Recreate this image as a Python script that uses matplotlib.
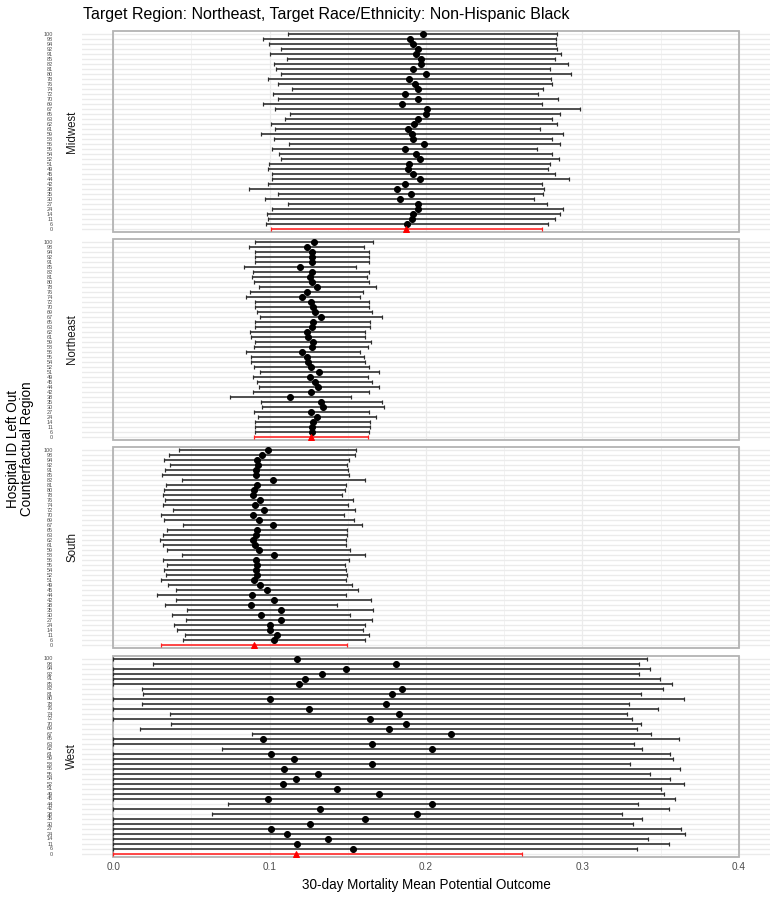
import matplotlib
matplotlib.use('Agg')
import matplotlib.pyplot as plt
from matplotlib.patches import Rectangle

plt.rcParams['font.family'] = ['Liberation Sans', 'DejaVu Sans']

# ---------------- data ----------------
hospital_ids = ["100", "98", "94", "92", "91", "85", "82", "81", "80", "78",
                "76", "74", "72", "70", "69", "67", "65", "63", "62", "61",
                "59", "58", "56", "55", "54", "52", "51", "49", "45", "44",
                "42", "38", "35", "30", "27", "24", "14", "11", "6", "0"]
highlight_id = "0"

regions = ["Midwest", "Northeast", "South", "West"]

mw_lo = [0.1118, 0.0959, 0.0997, 0.1070, 0.1002, 0.1108, 0.1027, 0.1040, 0.1070, 0.0991,
         0.1055, 0.1146, 0.1019, 0.1053, 0.0955, 0.1034, 0.1129, 0.1097, 0.1008, 0.1032,
         0.0944, 0.1027, 0.1121, 0.1012, 0.1059, 0.1072, 0.0995, 0.0989, 0.1014, 0.1014,
         0.0991, 0.0868, 0.1055, 0.0972, 0.1118, 0.1014, 0.0981, 0.0987, 0.0976, 0.1006]
mw_est = [0.1980, 0.1895, 0.1916, 0.1952, 0.1933, 0.1969, 0.1965, 0.1918, 0.1999, 0.1893,
          0.1931, 0.1948, 0.1867, 0.1950, 0.1848, 0.2008, 0.1997, 0.1952, 0.1925, 0.1882,
          0.1910, 0.1916, 0.1990, 0.1863, 0.1933, 0.1963, 0.1893, 0.1884, 0.1920, 0.1963,
          0.1867, 0.1812, 0.1901, 0.1831, 0.1948, 0.1946, 0.1918, 0.1908, 0.1877, 0.1874]
mw_hi = [0.2839, 0.2833, 0.2831, 0.2837, 0.2862, 0.2828, 0.2907, 0.2794, 0.2930, 0.2799,
         0.2803, 0.2750, 0.2716, 0.2845, 0.2743, 0.2984, 0.2856, 0.2803, 0.2839, 0.2732,
         0.2875, 0.2805, 0.2856, 0.2709, 0.2809, 0.2850, 0.2792, 0.2780, 0.2826, 0.2913,
         0.2745, 0.2752, 0.2750, 0.2690, 0.2773, 0.2875, 0.2856, 0.2824, 0.2780, 0.2745]

ne_lo = [0.0904, 0.0870, 0.0904, 0.0904, 0.0904, 0.0834, 0.0895, 0.0889, 0.0902, 0.0931,
         0.0876, 0.0848, 0.0904, 0.0906, 0.0917, 0.0936, 0.0908, 0.0908, 0.0876, 0.0883,
         0.0908, 0.0902, 0.0848, 0.0880, 0.0883, 0.0902, 0.0936, 0.0891, 0.0917, 0.0931,
         0.0891, 0.0749, 0.0944, 0.0951, 0.0902, 0.0927, 0.0908, 0.0906, 0.0906, 0.0902]
ne_est = [0.1284, 0.1236, 0.1270, 0.1272, 0.1272, 0.1191, 0.1270, 0.1259, 0.1272, 0.1306,
          0.1238, 0.1210, 0.1267, 0.1278, 0.1287, 0.1329, 0.1276, 0.1274, 0.1242, 0.1246,
          0.1280, 0.1270, 0.1210, 0.1242, 0.1248, 0.1267, 0.1316, 0.1259, 0.1287, 0.1312,
          0.1263, 0.1131, 0.1331, 0.1340, 0.1267, 0.1304, 0.1276, 0.1272, 0.1272, 0.1267]
ne_hi = [0.1663, 0.1601, 0.1633, 0.1635, 0.1635, 0.1552, 0.1637, 0.1625, 0.1637, 0.1682,
         0.1599, 0.1576, 0.1633, 0.1637, 0.1657, 0.1718, 0.1644, 0.1644, 0.1610, 0.1610,
         0.1648, 0.1631, 0.1576, 0.1603, 0.1610, 0.1633, 0.1697, 0.1627, 0.1657, 0.1699,
         0.1637, 0.1520, 0.1718, 0.1729, 0.1633, 0.1678, 0.1644, 0.1642, 0.1637, 0.1631]

so_lo = [0.0423, 0.0359, 0.0327, 0.0364, 0.0332, 0.0313, 0.0438, 0.0340, 0.0325, 0.0319,
         0.0334, 0.0319, 0.0381, 0.0308, 0.0323, 0.0444, 0.0344, 0.0317, 0.0300, 0.0315,
         0.0342, 0.0440, 0.0317, 0.0344, 0.0327, 0.0338, 0.0308, 0.0353, 0.0398, 0.0279,
         0.0404, 0.0330, 0.0470, 0.0374, 0.0468, 0.0391, 0.0408, 0.0461, 0.0447, 0.0306]
so_est = [0.0987, 0.0953, 0.0917, 0.0927, 0.0912, 0.0910, 0.1021, 0.0917, 0.0902, 0.0895,
          0.0936, 0.0908, 0.0961, 0.0893, 0.0929, 0.1021, 0.0917, 0.0910, 0.0893, 0.0908,
          0.0929, 0.1025, 0.0912, 0.0917, 0.0910, 0.0917, 0.0897, 0.0936, 0.0980, 0.0885,
          0.1027, 0.0880, 0.1070, 0.0944, 0.1070, 0.1002, 0.1004, 0.1050, 0.1029, 0.0902]
so_hi = [0.1554, 0.1548, 0.1506, 0.1497, 0.1501, 0.1508, 0.1608, 0.1491, 0.1480, 0.1465,
         0.1533, 0.1499, 0.1544, 0.1478, 0.1537, 0.1593, 0.1493, 0.1493, 0.1491, 0.1491,
         0.1516, 0.1610, 0.1506, 0.1484, 0.1486, 0.1497, 0.1491, 0.1525, 0.1565, 0.1491,
         0.1648, 0.1429, 0.1661, 0.1512, 0.1657, 0.1610, 0.1599, 0.1635, 0.1612, 0.1495]

we_lo = [0.0, 0.0257, 0.0, 0.0, 0.0, 0.0, 0.0185, 0.0189, 0.0, 0.0185,
         0.0, 0.0362, 0.0, 0.0370, 0.0170, 0.0889, 0.0, 0.0, 0.0693, 0.0,
         0.0, 0.0, 0.0, 0.0, 0.0, 0.0, 0.0, 0.0, 0.0, 0.0731,
         0.0, 0.0629, 0.0, 0.0, 0.0, 0.0, 0.0, 0.0, 0.0, 0.0]
we_est = [0.1176, 0.1808, 0.1491, 0.1335, 0.1223, 0.1189, 0.1848, 0.1782, 0.1004, 0.1742,
          0.1250, 0.1825, 0.1640, 0.1871, 0.1761, 0.2163, 0.0955, 0.1652, 0.2037, 0.1008,
          0.1159, 0.1652, 0.1091, 0.1312, 0.1170, 0.1087, 0.1431, 0.1699, 0.0989, 0.2041,
          0.1325, 0.1941, 0.1608, 0.1257, 0.1006, 0.1112, 0.1376, 0.1176, 0.1531, 0.1167]
we_hi = [0.3415, 0.3360, 0.3432, 0.3364, 0.3494, 0.3573, 0.3513, 0.3375, 0.3653, 0.3300,
         0.3481, 0.3285, 0.3317, 0.3373, 0.3351, 0.3439, 0.3621, 0.3330, 0.3381, 0.3558,
         0.3581, 0.3305, 0.3626, 0.3434, 0.3558, 0.3653, 0.3500, 0.3524, 0.3590, 0.3354,
         0.3551, 0.3254, 0.3381, 0.3324, 0.3634, 0.3656, 0.3417, 0.3553, 0.3349, 0.2613]

region_data = {
    "Midwest": (mw_lo, mw_est, mw_hi),
    "Northeast": (ne_lo, ne_est, ne_hi),
    "South": (so_lo, so_est, so_hi),
    "West": (we_lo, we_est, we_hi),
}

x_ticks = [0.0, 0.1, 0.2, 0.3, 0.4]
x_tick_labels = ["0.0", "0.1", "0.2", "0.3", "0.4"]
x_minor = [0.05, 0.15, 0.25, 0.35]

# ---------------- layout ----------------
W, H, DPI = 781, 899, 72
fig = plt.figure(figsize=(W / DPI, H / DPI), dpi=DPI)
panel_px = [(31, 232), (239, 440), (447, 648), (655.5, 856.5)]
x0, x1 = 82, 770
n = len(hospital_ids)
ypos = [n - 1 - i for i in range(n)]
grid_col = '#EBEBEB'

for k, region in enumerate(regions):
    top, bot = panel_px[k]
    ax = fig.add_axes([x0 / W, 1 - bot / H, (x1 - x0) / W, (bot - top) / H])
    ax.set_xlim(-0.02, 0.42)
    ax.set_ylim(-0.6, n - 1 + 0.6)
    for sp in ax.spines.values():
        sp.set_visible(False)
    for yy in ypos:
        ax.axhline(yy, color=grid_col, lw=1.4, zorder=0)
    for xv in x_ticks:
        ax.axvline(xv, color=grid_col, lw=1.2, zorder=0)
    for xv in x_minor:
        ax.axvline(xv, color=grid_col, lw=0.6, zorder=0)
    ax.add_patch(Rectangle((0, -0.6), 0.4, n - 1 + 1.2, fill=False,
                           ec='#B3B3B3', lw=1.8, clip_on=False, zorder=1))

    lo, est, hi = region_data[region]
    for i, hid in enumerate(hospital_ids):
        is_hl = hid == highlight_id
        col = '#FF0000' if is_hl else '#000000'
        ecol = '#FF2020' if is_hl else '#2A2A2A'
        ax.errorbar([est[i]], [ypos[i]],
                    xerr=[[est[i] - lo[i]], [hi[i] - est[i]]],
                    fmt='^' if is_hl else 'o', color=col, ecolor=ecol,
                    elinewidth=1.6, capsize=2.0, capthick=1.2,
                    ms=6.0, mec=col, zorder=3, clip_on=False)

    ax.set_yticks(ypos)
    ax.set_yticklabels(hospital_ids, fontsize=5.5, color='#4D4D4D')
    ax.tick_params(axis='y', length=0, pad=29)
    ax.set_xticks(x_ticks)
    if k == len(regions) - 1:
        ax.set_xticklabels(x_tick_labels, fontsize=10, color='#4D4D4D')
        ax.tick_params(axis='x', length=0, pad=6)
    else:
        ax.set_xticklabels([])
        ax.tick_params(axis='x', length=0)

    fig.text(72 / W, 1 - (top + bot) / 2 / H, region, rotation=90,
             ha='center', va='center', fontsize=11.5, color='#1A1A1A')

fig.text(20 / W, 1 - 449 / H, "Hospital ID Left Out\nCounterfactual Region",
         rotation=90, ha='center', va='center', fontsize=13.5,
         multialignment='center', linespacing=1.05, color='#000000')
fig.text(426 / W, 1 - 885 / H, "30-day Mortality Mean Potential Outcome",
         ha='center', va='center', fontsize=13.5, color='#000000')
fig.text(83 / W, 1 - 14 / H,
         "Target Region: Northeast, Target Race/Ethnicity: Non-Hispanic Black",
         ha='left', va='center', fontsize=16, color='#000000')

fig.savefig('out.png', dpi=DPI)
